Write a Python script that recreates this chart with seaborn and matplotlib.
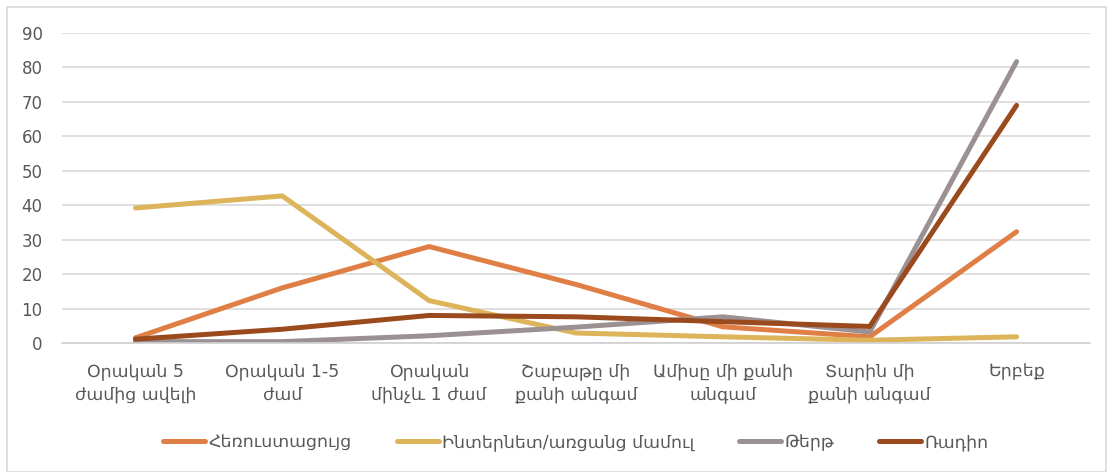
import matplotlib
matplotlib.use("Agg")
import matplotlib.pyplot as plt
import seaborn as sns
import pandas as pd
import numpy as np
from matplotlib.patches import Rectangle

categories = ["Օրական 5\nժամից ավելի", "Օրական 1-5\nժամ", "Օրական\nմինչև 1 ժամ",
              "Շաբաթը մի\nքանի անգամ", "Ամիսը մի քանի\nանգամ", "Տարին մի\nքանի անգամ", "Երբեք"]
series_names = ["Հեռուստացույց", "Ինտերնետ/առցանց մամուլ", "Թերթ", "Ռադիո"]
tv = [1.5, 16, 28, 17, 4.7, 1.8, 32.3]
internet = [39.2, 42.7, 12.3, 2.9, 1.8, 0.8, 1.8]
newspaper = [0.4, 0.4, 2.1, 4.6, 7.6, 3.2, 81.7]
radio = [1.1, 4.0, 8.0, 7.6, 6.2, 4.8, 69.0]
yticks = [0, 10, 20, 30, 40, 50, 60, 70, 80, 90]

colors = ["#E07F45", "#DDB45A", "#9C9192", "#9A4A1C"]

rows = []
for name, vals in zip(series_names, [tv, internet, newspaper, radio]):
    for c, v in zip(categories, vals):
        rows.append({"cat": c, "val": v, "series": name})
df = pd.DataFrame(rows)

sns.set_theme(style="white")
plt.rcParams['font.family'] = ['DejaVu Sans']

fig = plt.figure(figsize=(11.08, 4.72), dpi=100)
ax = fig.add_axes([62/1108, 1-343/472, (1090-62)/1108, (343-33)/472])

sns.lineplot(data=df, x="cat", y="val", hue="series", palette=colors, sort=False,
             linewidth=3.6, ax=ax, legend=True, solid_capstyle="round")

ax.set_xlim(-0.5, len(categories) - 0.5)
ax.set_ylim(0, 90)
ax.set_yticks(yticks)
ax.set_yticklabels([str(t) for t in yticks])
ax.yaxis.grid(True, color="#D9D9D9", linewidth=1.2)
ax.set_axisbelow(True)
for s in ["top", "right", "left"]:
    ax.spines[s].set_visible(False)
ax.spines["bottom"].set_color("#D0D0D0")
ax.spines["bottom"].set_linewidth(1.2)
ax.set_xlabel("")
ax.set_ylabel("")
ax.set_xticks(range(len(categories)))
ax.set_xticklabels(categories, fontsize=12.5, color="#595959", linespacing=1.35)
ax.set_xticks(np.arange(-0.5, len(categories)), minor=True)
ax.tick_params(axis="x", which="major", length=0, pad=14)
ax.tick_params(axis="x", which="minor", length=6, color="#D0D0D0", width=1.2, direction="out")
ax.tick_params(axis="y", length=0, labelsize=12, labelcolor="#595959", pad=14)

leg = ax.legend(loc="upper center", bbox_to_anchor=(0.5, -0.24), ncol=4, frameon=False,
                fontsize=12.5, handlelength=2.4, handletextpad=0.2, columnspacing=2.6)
for t in leg.get_texts():
    t.set_color("#595959")
for h in leg.get_lines():
    h.set_linewidth(3.6)

fig.patches.append(Rectangle((7/1108, 0.0), 1 - 7/1108 - 2/1108, 1 - 7/472, transform=fig.transFigure,
                             fill=False, edgecolor="#D9D9D9", linewidth=1.2))

fig.savefig("out.png", dpi=100)
